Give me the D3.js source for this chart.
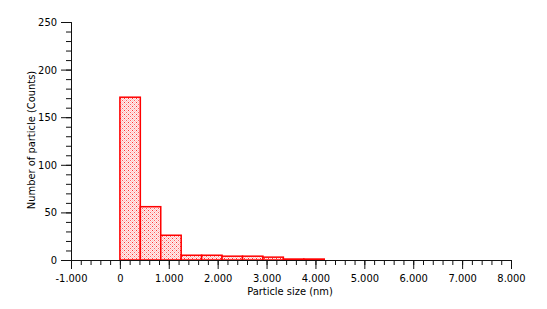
<!DOCTYPE html>
<html>
<head>
<meta charset="utf-8">
<script src="https://cdn.jsdelivr.net/npm/d3@7"></script>
<style>
  body { margin: 0; background: #fff; }
  text { font-family: "DejaVu Sans Condensed", "DejaVu Sans", sans-serif; }
</style>
</head>
<body>
<div id="chart"></div>
<script>
// bins (lower edge, nm) and counts
var binStarts = [0, 0.418, 0.836, 1.254, 1.672, 2.090, 2.508, 2.926, 3.344, 3.762];
var binWidth = 0.418;
var counts = [171, 56, 26, 5, 5, 4, 4, 3, 1, 1];

var xTicks = [-1, 0, 1, 2, 3, 4, 5, 6, 7, 8];
var yTicks = [0, 50, 100, 150, 200, 250];

var margin = { top: 22, right: 36, bottom: 49, left: 71 };

var svg = d3.select('#chart')
    .append('svg')
    .attr('width', 547)
    .attr('height', 309);

var width = +svg.attr('width') - margin.left - margin.right,
    height = +svg.attr('height') - margin.top - margin.bottom;

var g = svg.append('g')
    .attr('transform', 'translate(' + margin.left + ',' + margin.top + ')');

var x = d3.scaleLinear().domain([-1, 8]).range([0, width]);
var y = d3.scaleLinear().domain([0, 250]).range([height, 0]);

// dotted pink fill
var pat = svg.append('defs').append('pattern')
    .attr('id', 'dots')
    .attr('patternUnits', 'userSpaceOnUse')
    .attr('width', 4)
    .attr('height', 4)
    .attr('shape-rendering', 'crispEdges');
pat.append('rect').attr('width', 4).attr('height', 4).attr('fill', '#ffc4c4');
[[0, 0], [2, 0], [1, 1], [3, 1], [0, 2], [2, 2], [1, 3], [3, 3]].forEach(function (p) {
    pat.append('rect').attr('x', p[0]).attr('y', p[1]).attr('width', 1).attr('height', 1).attr('fill', '#ffeeee');
});
pat.append('rect').attr('x', 1).attr('y', 0).attr('width', 1).attr('height', 1).attr('fill', '#ff3030');
pat.append('rect').attr('x', 3).attr('y', 2).attr('width', 1).attr('height', 1).attr('fill', '#ff6060');

// bars
g.append('g')
    .selectAll('rect')
    .data(counts)
    .enter()
    .append('rect')
    .attr('x', function (d, i) { return x(binStarts[i]); })
    .attr('y', function (d) { return y(d); })
    .attr('width', function (d, i) { return x(binStarts[i] + binWidth) - x(binStarts[i]); })
    .attr('height', function (d) { return y(0) - y(d); })
    .attr('fill', 'url(#dots)')
    .attr('stroke', '#ff0000')
    .attr('stroke-width', 1.5);

// minor ticks
g.append('g')
    .attr('class', 'axis-x-minor')
    .attr('transform', 'translate(0,' + height + ')')
    .call(d3.axisBottom(x).tickValues(d3.range(-1, 8.001, 0.2)).tickSize(5).tickFormat(''));

g.append('g')
    .attr('class', 'axis-y-minor')
    .call(d3.axisLeft(y).tickValues(d3.range(0, 251, 10)).tickSize(5).tickFormat(''));

// major ticks
g.append('g')
    .attr('class', 'axis-x')
    .attr('transform', 'translate(0,' + height + ')')
    .call(d3.axisBottom(x).tickValues(xTicks).tickSize(9).tickPadding(5)
        .tickFormat(function (d) { return d === 0 ? '0' : d3.format('.3f')(d).replace('\u2212', '-'); }));

g.append('g')
    .attr('class', 'axis-y')
    .call(d3.axisLeft(y).tickValues(yTicks).tickSize(10).tickPadding(4));

svg.selectAll('.domain').attr('stroke', '#111');
svg.selectAll('.tick line').attr('stroke', '#111');
svg.selectAll('.tick text')
    .attr('font-family', '"DejaVu Sans Condensed", "DejaVu Sans", sans-serif')
    .attr('font-size', 11)
    .attr('fill', '#000');

// axis titles
svg.append('text')
    .attr('x', 290)
    .attr('y', 295)
    .attr('text-anchor', 'middle')
    .attr('font-size', 11)
    .attr('fill', '#000')
    .text('Particle size (nm)');

svg.append('text')
    .attr('transform', 'translate(35,140) rotate(-90)')
    .attr('text-anchor', 'middle')
    .attr('font-size', 11)
    .attr('fill', '#000')
    .text('Number of particle (Counts)');
</script>
</body>
</html>
